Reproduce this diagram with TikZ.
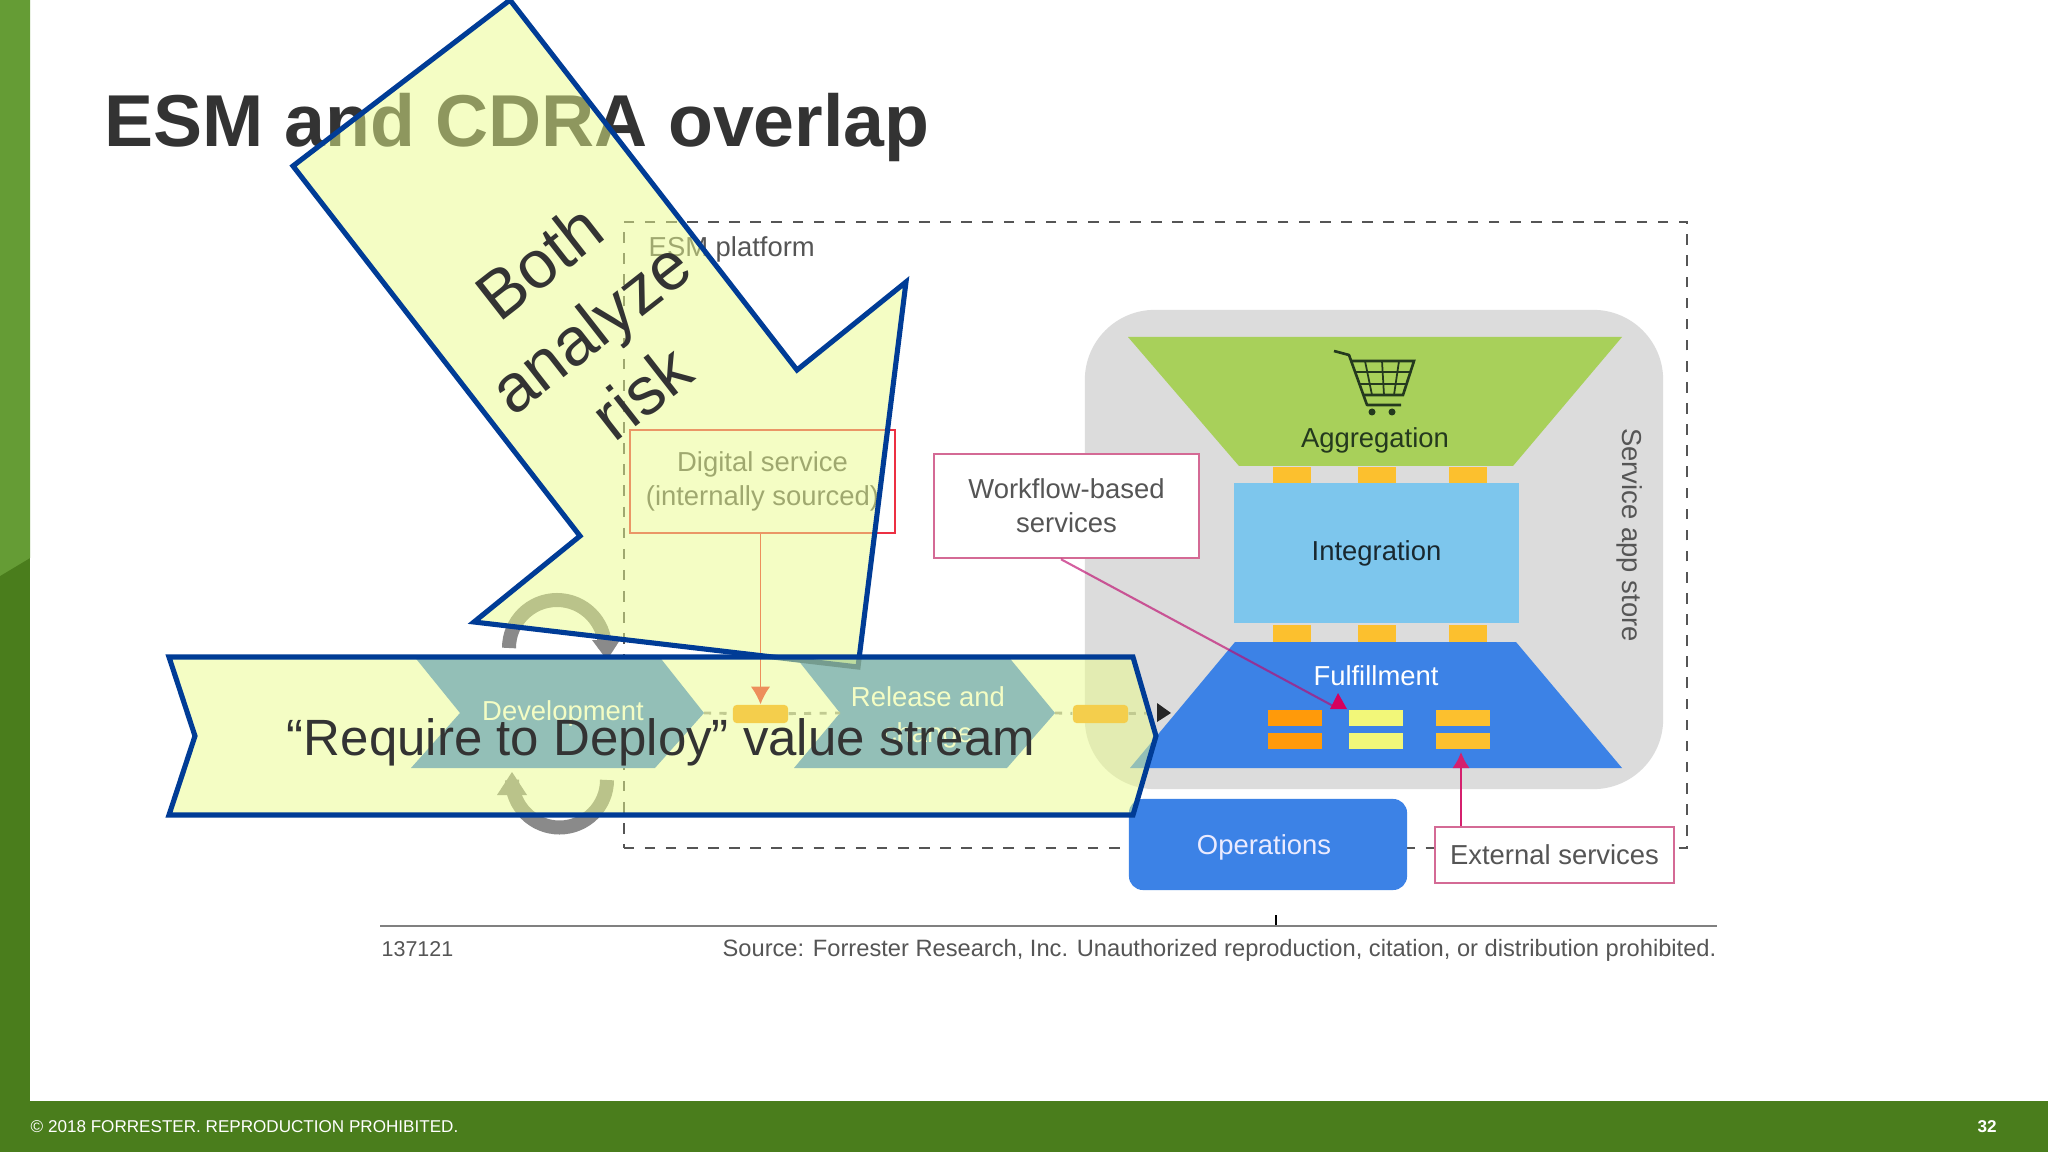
\documentclass[tikz,border=0pt]{standalone}
\usepackage{fontspec}
\setmainfont{Liberation Sans}
\usetikzlibrary{shapes, arrows.meta, calc, positioning}
\definecolor{barlight}{HTML}{659C35}
\definecolor{bardark}{HTML}{4A7D1C}
\definecolor{inkdark}{HTML}{333333}
\definecolor{inkgrey}{HTML}{555555}
\definecolor{calloutblue}{HTML}{003C96}
\definecolor{calloutfill}{RGB}{234,252,138}
\definecolor{panelgrey}{HTML}{DCDCDC}
\definecolor{aggrgreen}{HTML}{A8D05A}
\definecolor{integblue}{HTML}{7DC6ED}
\definecolor{fulfblue}{HTML}{3C82E6}
\definecolor{tabamber}{HTML}{FCC02E}
\definecolor{taborange}{HTML}{FF9A0A}
\definecolor{tabyellow}{HTML}{F2F779}
\definecolor{linkpink}{RGB}{190,10,110}
\definecolor{boxpink}{HTML}{D46A95}
\definecolor{headpink}{HTML}{D6005D}
\definecolor{cartink}{HTML}{24391E}
\tikzstyle{figtext} = [text=inkgrey, font=\fontsize{7.8}{9.6}\selectfont, align=center, inner sep=0pt]
\tikzstyle{callbox} = [rectangle, draw=boxpink, line width=0.7pt, fill=white, figtext]
\tikzstyle{block} = [rectangle, fill=integblue, text=inkdark, font=\fontsize{7.8}{9.6}\selectfont]
\tikzstyle{tab} = [rectangle, inner sep=0pt, minimum width=0.54cm, minimum height=0.165cm]
\tikzstyle{line} = [draw, line width=0.6pt, -{Latex[length=4.4pt,width=4.8pt]}]
\tikzstyle{stream} = [draw=inkgrey!60, line width=0.8pt, dash pattern=on 2pt off 2.4pt]
\tikzstyle{loopline} = [draw=black!46, line width=0.14cm]
\tikzstyle{callout} = [draw=calloutblue, line width=1.45pt, line join=miter, fill=calloutfill, fill opacity=0.5]
\tikzstyle{callouttext} = [text=inkdark, align=center, inner sep=0pt]
\begin{document}
\begin{tikzpicture}[x=0.01cm, y=-0.01cm]
        \useasboundingbox (0,0) rectangle (2048,1152);
        \fill[white] (0,0) rectangle (2048,1152);

        \fill[bardark] (0,0) rectangle (30,1152);
        \fill[barlight] (0,0) -- (30,0) -- (30,558) -- (0,576) -- cycle;
        \fill[bardark] (0,1101) rectangle (2048,1152);
        \node[anchor=west, text=white, inner sep=0pt, font=\fontsize{4.86}{6}\selectfont] (legal) at (30,1127) {© 2018 FORRESTER. REPRODUCTION PROHIBITED.};
        \node[text=white, inner sep=0pt, font=\fontsize{4.86}{6}\selectfont\bfseries] (pagenum) at (1987,1127) {32};

        \node[anchor=west, text=inkdark, inner sep=0pt, font=\fontsize{20.9}{24}\selectfont\bfseries] (title) at (104,128) {ESM and CDRA overlap};

        \node[rectangle, draw=inkgrey, line width=0.6pt, dashed, minimum width=10.63cm, minimum height=6.26cm] (esm) at (1155.5,535) {};
        \node[figtext, anchor=west] (esmlabel) at (648,249) {ESM platform};

        \node[rectangle, fill=panelgrey, rounded corners=0.7cm, minimum width=5.78cm, minimum height=4.79cm] (store) at (1374,549.5) {};
        \node[figtext, rotate=-90] (storelabel) at (1630,535) {Service app store};

        \fill[aggrgreen] (1128,337) -- (1622,337) -- (1513,466) -- (1239,466) -- cycle;
        \node[figtext, text=cartink] (aggr) at (1375,440) {Aggregation};
        \node[block, minimum width=2.85cm, minimum height=1.40cm, text=black!20!integblue!25!black] (integ) at (1376.5,553) {\raisebox{-2pt}{Integration}};
        \fill[fulfblue] (1235,642) -- (1516,642) -- (1622,768) -- (1130,768) -- cycle;
        \node[figtext, text=white] (fulf) at (1376,676) {Fulfillment};

        \foreach \x in {1292,1377,1468} {
            \fill[tabamber] (\x-19,467) rectangle (\x+19,483);
            \fill[tabamber] (\x-19,625) rectangle (\x+19,642);
        }

        \node[tab, fill=taborange, anchor=north west] (svc1) at (1267,709) {};
        \node[tab, fill=taborange, below=0.05cm of svc1] (svc2) {};
        \node[tab, fill=tabyellow, anchor=north west] (svc3) at (1348,709) {};
        \node[tab, fill=tabyellow, below=0.05cm of svc3] (svc4) {};
        \node[tab, fill=tabamber, anchor=north west] (svc5) at (1435,709) {};
        \node[tab, fill=tabamber, below=0.05cm of svc5] (svc6) {};

        \draw[cartink, line width=0.75pt, line join=round] (1334,351) -- (1349,355) -- (1367,405) -- (1401,405);
        \draw[cartink, line width=0.75pt] (1351,361) -- (1414,361) -- (1403,395) -- (1363,395);
        \draw[cartink, line width=0.5pt] (1355,372) -- (1410,372) (1359,384) -- (1407,384);
        \foreach \a/\b in {1365/1372,1382/1384,1399/1394} {
            \draw[cartink, line width=0.5pt] (\a,361) -- (\b,395);
        }
        \fill[cartink] (1372,412) circle (3.5) (1392,412) circle (3.5);

        \fill[fulfblue] (413,655) -- (658,655) -- (704,713) -- (655,768) -- (411,768) -- (460,713) -- cycle;
        \coordinate (devtip) at (704,713);
        \node[figtext, text=white] (dev) at (563,713) {Development};
        \fill[fulfblue] (794,655) -- (1007,655) -- (1055,713) -- (1007,768) -- (794,768) -- (840,713) -- cycle;
        \coordinate (reltip) at (1055,713);
        \coordinate (relnotch) at (840,713);
        \node[figtext, text=white] (rel) at (928,717) {Release and\\[0.6pt]change};

        \node[rectangle, fill=taborange!85!tabamber, rounded corners=1pt, inner sep=0pt, minimum width=0.55cm, minimum height=0.18cm] (gate1) at (760.5,714) {};
        \node[rectangle, fill=taborange!85!tabamber, rounded corners=1pt, inner sep=0pt, minimum width=0.55cm, minimum height=0.18cm] (gate2) at (1100.5,714) {};
        \coordinate (shipin) at (1157,713);
        \path[stream] (devtip) -- (gate1);
        \path[stream] (gate1) -- (relnotch);
        \path[stream] (reltip) -- (gate2);
        \path[stream] (gate2) -- (shipin);
        \fill[black!85] (1157,703) -- (1171,713) -- (1157,722) -- cycle;

        \path[loopline] (509,648) arc (180:360:48);
        \fill[black!46] (592,640) -- (620,640) -- (607,660) -- cycle;
        \path[loopline] (607,780) arc (0:180:47.5);
        \fill[black!46] (497,795) -- (527,795) -- (512,772) -- cycle;

        \node[callbox, draw=red!55!boxpink, minimum width=2.65cm, minimum height=1.03cm, fill=none] (digital) at (762.5,481.5) {\raisebox{3pt}{\parbox{2.6cm}{\centering Digital service\\(internally sourced)}}};
        \path[line, draw=red!70!boxpink, line width=0.45pt, -{Latex[length=5pt,width=5.5pt]}] (digital.south -| gate1.north) -- (gate1.north);

        \node[callbox, minimum width=2.65cm, minimum height=1.04cm] (workflow) at (1066.5,506) {Workflow-based\\services};
        \node[callbox, minimum width=2.39cm, minimum height=0.56cm] (external) at (1554.5,855) {External services};
        \node[rectangle, fill=fulfblue, rounded corners=0.14cm, minimum width=2.78cm, minimum height=0.91cm] (ops) at (1268,844.5) {};
        \node[figtext, text=blue!8] (opslabel) at (1264,847) {Operations};

        \coordinate (wfin) at (1335,707);
        \path[draw=linkpink, draw opacity=0.65, line width=0.6pt] (workflow.south -| 1061,0) -- (wfin);
        \fill[headpink] (1338,693) -- (1347,709) -- (1330,709) -- cycle;
        \path[line, draw=headpink!70!boxpink, line width=0.7pt, -{Latex[length=4.6pt,width=5pt]}] (external.north -| 1461,0) -- (1461,752);

        \coordinate (ruleleft) at (380,926);
        \coordinate (ruleright) at (1717,926);
        \draw[black!50, line width=0.8pt] (ruleleft) -- (ruleright);
        \draw[black, line width=0.3pt] (1276,915) -- (1276,925);
        \node[figtext, anchor=west, font=\fontsize{6.1}{8}\selectfont] (fignum) at (381,949) {137121};
        \node[figtext, anchor=east, font=\fontsize{6.73}{8}\selectfont] (source) at (1717,950) {Source: Forrester Research, Inc. Unauthorized reproduction, citation, or distribution prohibited.};

        \path[callout] (510,0) -- (797,370) -- (906,282) -- (858,667) -- (474,622) -- (580,536) -- (293,166) -- cycle;
        \node[callouttext, rotate=38, font=\fontsize{19.2}{23.6}\selectfont] (risklabel) at (590,327) {Both\\analyze\\risk};

        \path[callout] (169,657) -- (1133,657) -- (1156,736) -- (1133,815) -- (169,815) -- (195,736) -- cycle;
        \node[callouttext, font=\fontsize{14.5}{17}\selectfont] (streamlabel) at (661,742) {“Require to Deploy” value stream};
\end{tikzpicture}
\end{document}
